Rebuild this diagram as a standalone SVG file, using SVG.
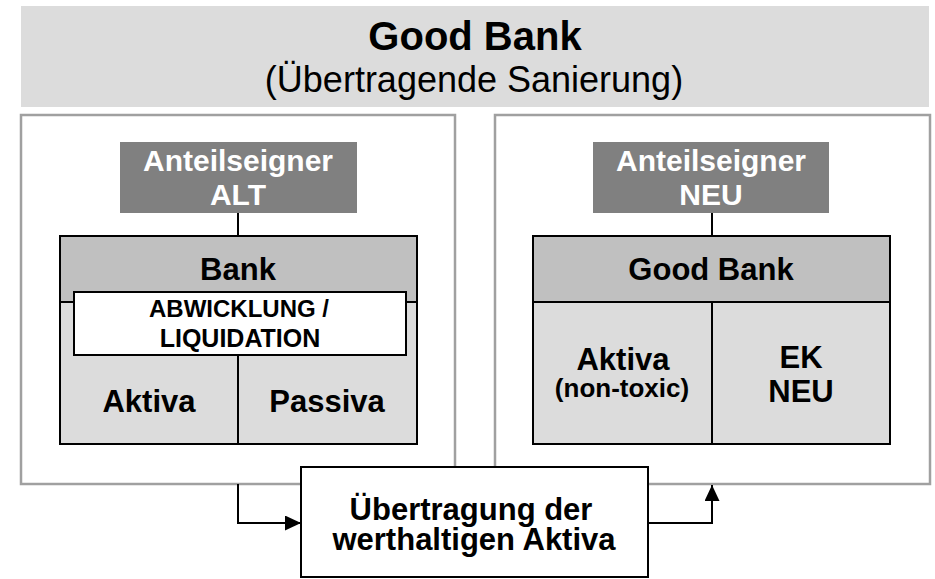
<svg xmlns="http://www.w3.org/2000/svg" width="935" height="579" viewBox="0 0 935 579">
  <defs>
    <style>
      text { font-family: "Liberation Sans", Arial, sans-serif; text-anchor: middle; }
      .b { font-weight: bold; }
      .frame { fill: #ffffff; stroke: #a0a0a0; stroke-width: 2.5; }
      .owner { fill: #808080; }
      .owner-t { fill: #ffffff; font-weight: bold; font-size: 30px; }
      .head { fill: #c0c0c0; stroke: #000; stroke-width: 2; }
      .body { fill: #dcdcdc; stroke: #000; stroke-width: 2; }
      .lbl { fill: #000; font-weight: bold; font-size: 31px; }
      .ln { stroke: #000; stroke-width: 2; fill: none; }
    </style>
    <marker id="arrowhead" viewBox="0 0 16 15" refX="16" refY="7.5" markerWidth="16" markerHeight="15" markerUnits="userSpaceOnUse" orient="auto">
      <path d="M0,0 L16,7.5 L0,15 z" fill="#000"/>
    </marker>
  </defs>

  <!-- Title banner -->
  <g id="title">
    <rect x="21" y="6" width="908" height="101" fill="#dcdcdc"/>
    <text x="475" y="50" class="b" font-size="40">Good Bank</text>
    <text x="474" y="92" font-size="36">(Übertragende Sanierung)</text>
  </g>

  <!-- Left frame: old bank -->
  <g id="frame-old">
    <rect class="frame" x="21" y="115" width="434" height="369"/>
  </g>
  <!-- Right frame: good bank -->
  <g id="frame-new">
    <rect class="frame" x="495" y="115" width="435" height="369"/>
  </g>

  <!-- Connectors -->
  <g id="connectors">
    <line class="ln" x1="238" y1="213" x2="238" y2="236"/>
    <line class="ln" x1="712" y1="213" x2="712" y2="236"/>
    <path class="ln" d="M238,484 V523 H301" marker-end="url(#arrowhead)"/>
    <path class="ln" d="M648,523 H712 V485" marker-end="url(#arrowhead)"/>
  </g>

  <g id="owner-old">
    <rect class="owner" x="120" y="142" width="237" height="71"/>
    <text class="owner-t" x="238" y="171">Anteilseigner</text>
    <text class="owner-t" x="238" y="205">ALT</text>
  </g>

  <g id="owner-new">
    <rect class="owner" x="593" y="142" width="236" height="71"/>
    <text class="owner-t" x="711" y="171">Anteilseigner</text>
    <text class="owner-t" x="711" y="205">NEU</text>
  </g>

  <g id="bank-old">
    <rect class="body" x="60" y="236" width="357" height="208"/>
    <rect class="head" x="60" y="236" width="357" height="66"/>
    <line class="ln" x1="238" y1="355" x2="238" y2="444"/>
    <text class="lbl" x="238" y="280">Bank</text>
    <text class="lbl" x="149" y="412">Aktiva</text>
    <text class="lbl" x="327" y="412">Passiva</text>
  </g>

  <g id="liquidation">
    <rect x="74" y="292" width="332" height="63" fill="#ffffff" stroke="#000" stroke-width="2"/>
    <text class="b" x="239" y="317" font-size="24">ABWICKLUNG /</text>
    <text class="b" x="240" y="347" font-size="25">LIQUIDATION</text>
  </g>

  <g id="bank-new">
    <rect class="body" x="533" y="236" width="357" height="208"/>
    <rect class="head" x="533" y="236" width="357" height="66"/>
    <line class="ln" x1="712" y1="302" x2="712" y2="444"/>
    <text class="lbl" x="711" y="280">Good Bank</text>
    <text class="lbl" x="623" y="370">Aktiva</text>
    <text class="b" x="622" y="397" font-size="26">(non-toxic)</text>
    <text class="lbl" x="801" y="368">EK</text>
    <text class="lbl" x="801" y="402">NEU</text>
  </g>

  <g id="transfer">
    <rect x="301" y="467" width="347" height="110" fill="#ffffff" stroke="#000" stroke-width="2"/>
    <text class="b" x="471" y="520" font-size="31">Übertragung der</text>
    <text class="b" x="474" y="550" font-size="31">werthaltigen Aktiva</text>
  </g>
</svg>
